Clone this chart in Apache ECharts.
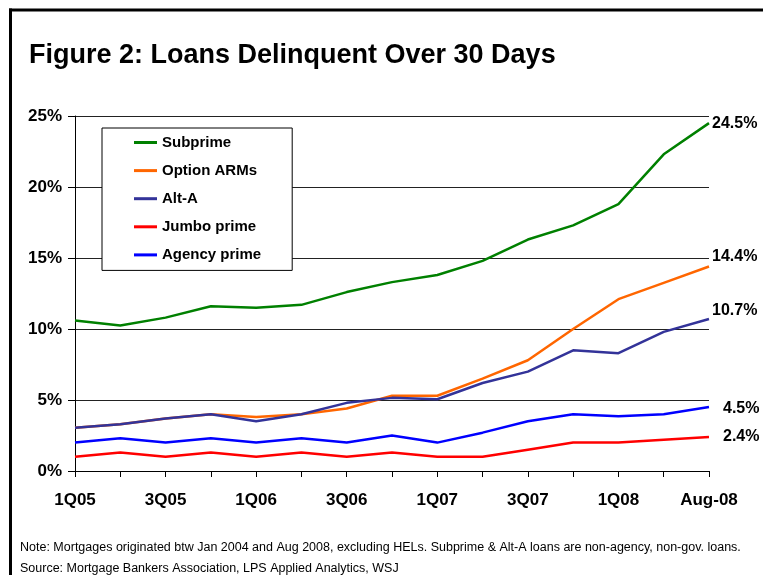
<!DOCTYPE html>
<html>
<head>
<meta charset="utf-8">
<script src="https://cdn.jsdelivr.net/npm/echarts@6/dist/echarts.min.js"></script>
<style>
html,body{margin:0;padding:0;background:#fff;}
#chart{width:763px;height:575px;}
</style>
</head>
<body>
<div id="chart"></div>
<script>
const categories = ['1Q05','2Q05','3Q05','4Q05','1Q06','2Q06','3Q06','4Q06','1Q07','2Q07','3Q07','4Q07','1Q08','2Q08','Aug-08'];
const subprime   = [10.6, 10.25, 10.8, 11.6, 11.5, 11.7, 12.6, 13.3, 13.8, 14.8, 16.3, 17.3, 18.8, 22.3, 24.5];
const optionARMs = [3.05, 3.3, 3.7, 4.0, 3.8, 4.0, 4.4, 5.3, 5.3, 6.5, 7.8, 10.0, 12.1, 13.25, 14.4];
const altA       = [3.05, 3.3, 3.7, 4.0, 3.5, 4.0, 4.8, 5.15, 5.05, 6.2, 7.0, 8.5, 8.3, 9.8, 10.7];
const jumboPrime = [1.0, 1.3, 1.0, 1.3, 1.0, 1.3, 1.0, 1.3, 1.0, 1.0, 1.5, 2.0, 2.0, 2.2, 2.4];
const agencyPrime= [2.0, 2.3, 2.0, 2.3, 2.0, 2.3, 2.0, 2.5, 2.0, 2.7, 3.5, 4.0, 3.85, 4.0, 4.5];
const yTicks = { min: 0, max: 25, interval: 5 };
const titleText = 'Figure 2: Loans Delinquent Over 30 Days';
const noteText = 'Note: Mortgages originated btw Jan 2004 and Aug 2008, excluding HELs. Subprime & Alt-A loans are non-agency, non-gov. loans.';
const sourceText = 'Source: Mortgage Bankers Association, LPS Applied Analytics, WSJ';

const FONT = 'Arial, "Liberation Sans", sans-serif';
const chart = echarts.init(document.getElementById('chart'), null, {renderer: 'canvas'});

function mkSeries(name, data, color, offset) {
  return {
    name: name,
    type: 'line',
    data: data,
    symbol: 'none',
    showSymbol: false,
    lineStyle: { color: color, width: 2.5 },
    itemStyle: { color: color },
    endLabel: {
      show: true,
      formatter: p => p.value + '%',
      color: '#000',
      fontFamily: FONT,
      fontWeight: 'bold',
      fontSize: 16,
      distance: 3,
      offset: offset
    },
    emphasis: { disabled: true }
  };
}

chart.setOption({
  animation: false,
  backgroundColor: '#fff',
  title: {
    text: titleText,
    left: 29,
    top: 42,
    padding: 0,
    textStyle: { fontFamily: FONT, fontWeight: 'bold', fontSize: 27, color: '#000' }
  },
  grid: { left: 75, right: 54, top: 116, bottom: 104 },
  legend: {
    orient: 'vertical',
    left: 102,
    top: 128,
    padding: [7, 31, 8, 32],
    backgroundColor: '#fff',
    borderColor: '#000',
    borderWidth: 1,
    icon: 'rect',
    itemWidth: 23,
    itemHeight: 3,
    itemGap: 13.1,
    textStyle: { fontFamily: FONT, fontWeight: 'bold', fontSize: 15, color: '#000', lineHeight: 14 },
    data: ['Subprime', 'Option ARMs', 'Alt-A', 'Jumbo prime', 'Agency prime']
  },
  xAxis: {
    type: 'category',
    data: categories,
    boundaryGap: false,
    axisLine: { lineStyle: { color: '#000', width: 1 } },
    axisTick: { show: true, interval: 0, length: 6, lineStyle: { color: '#000' } },
    axisLabel: { interval: 1, margin: 21, color: '#000', fontFamily: FONT, fontWeight: 'bold', fontSize: 17 },
    splitLine: { show: false }
  },
  yAxis: {
    type: 'value',
    min: yTicks.min,
    max: yTicks.max,
    interval: yTicks.interval,
    axisLine: { show: true, lineStyle: { color: '#000', width: 1 } },
    axisTick: { show: true, length: 7, lineStyle: { color: '#000' } },
    axisLabel: { formatter: '{value}%', margin: 13, color: '#000', fontFamily: FONT, fontWeight: 'bold', fontSize: 17 },
    splitLine: { show: true, lineStyle: { color: '#222', width: 1 } }
  },
  series: [
    mkSeries('Subprime', subprime, '#008000', [0, 0]),
    mkSeries('Option ARMs', optionARMs, '#FF6600', [0, -10]),
    mkSeries('Alt-A', altA, '#333399', [0, -8]),
    mkSeries('Jumbo prime', jumboPrime, '#FF0000', [11, 0]),
    mkSeries('Agency prime', agencyPrime, '#0000FF', [11, 1])
  ],
  graphic: [
    { type: 'line', shape: { x1: 10.5, y1: 8.5, x2: 10.5, y2: 575 }, style: { stroke: '#000', lineWidth: 3 }, silent: true },
    { type: 'line', shape: { x1: 9, y1: 10, x2: 763, y2: 10 }, style: { stroke: '#000', lineWidth: 3 }, silent: true },
    { type: 'text', left: 20, top: 541, style: { text: noteText, fontFamily: FONT, fontSize: 12.5, fill: '#000' }, silent: true },
    { type: 'text', left: 20, top: 562, style: { text: sourceText, fontFamily: FONT, fontSize: 12.5, fill: '#000' }, silent: true }
  ]
});
</script>
</body>
</html>
